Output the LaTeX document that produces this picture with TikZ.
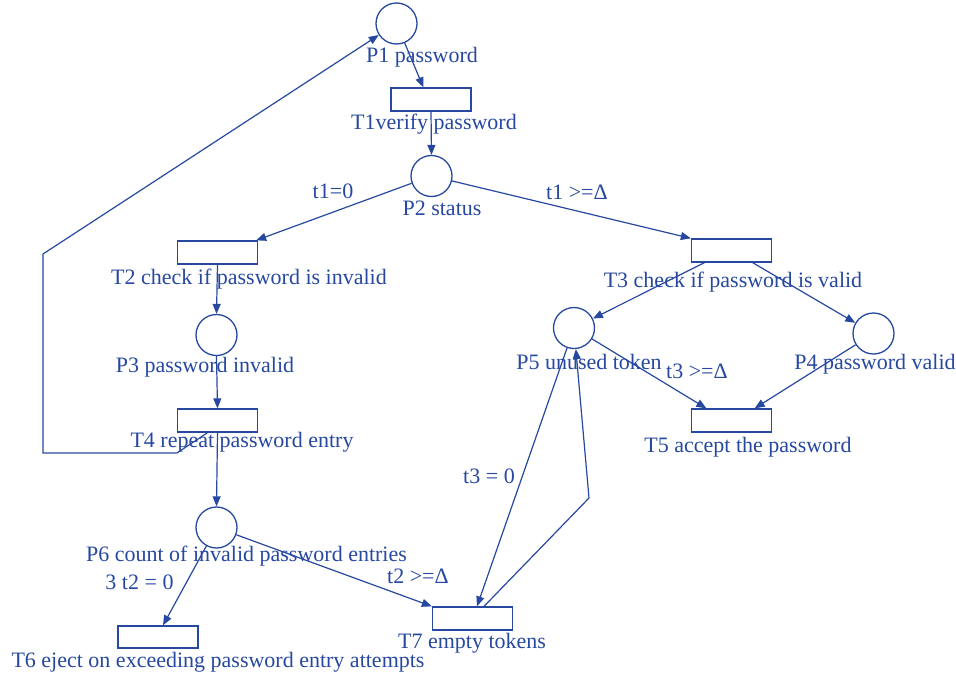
\documentclass[tikz,border=0pt]{standalone}
\usepackage{fontspec}
\setmainfont{Liberation Serif}
\usetikzlibrary{arrows.meta,calc}
\definecolor{netblue}{RGB}{38,72,160}
\begin{document}
\begin{tikzpicture}[x=1pt,y=-1pt,
  place/.style={circle,draw=netblue,line width=1.3pt,minimum size=41pt,inner sep=0pt},
  trans/.style={rectangle,draw=netblue,line width=1.3pt,minimum width=80pt,minimum height=23pt,inner sep=0pt},
  lbl/.style={text=netblue,font=\fontsize{22}{24}\selectfont,anchor=base,inner sep=0pt},
  arc/.style={draw=netblue,line width=1.2pt,-{Triangle[length=10pt,width=8pt]}}]
\useasboundingbox (0,0) rectangle (956,675);

% places
\node[place] (P1) at (396.5,23.5) {};
\node[place] (P2) at (431.5,176) {};
\node[place] (P3) at (216.5,335) {};
\node[place] (P4) at (873.5,333.5) {};
\node[place] (P5) at (574,328) {};
\node[place] (P6) at (216.5,527.5) {};

% transitions
\node[trans] (T1) at (431,99.5) {};
\node[trans] (T2) at (217.5,252.5) {};
\node[trans] (T3) at (731.5,250.5) {};
\node[trans] (T4) at (217.5,420.5) {};
\node[trans] (T5) at (731.5,420.5) {};
\node[trans,minimum height=22pt] (T6) at (158,637) {};
\node[trans] (T7) at (472.5,618.5) {};

% labels
\node[lbl] (lP1) at (422,62) {P1 password};
\node[lbl] (lT1) at (434,129) {T1verify password};
\node[lbl] (lP2) at (442,215) {P2 status};
\node[lbl] (lA1) at (333,198) {t1=0};
\node[lbl] (lA2) at (577,199) {t1 >=Δ};
\node[lbl] (lT2) at (249,284) {T2 check if password is invalid};
\node[lbl] (lT3) at (733,287) {T3 check if password is valid};
\node[lbl] (lP3) at (205,372) {P3 password invalid};
\node[lbl] (lP5) at (589,369) {P5 unused token};
\node[lbl] (lA3) at (697,378) {t3 >=Δ};
\node[lbl] (lP4) at (875,369) {P4 password valid};
\node[lbl] (lT4) at (242,447) {T4 repeat password entry};
\node[lbl] (lT5) at (748,452) {T5 accept the password};
\node[lbl] (lA4) at (489,483) {t3 = 0};
\node[lbl] (lP6) at (246.5,561) {P6 count of invalid password entries};
\node[lbl] (lA5) at (139.5,589) {3 t2 = 0};
\node[lbl] (lA6) at (418,583) {t2 >=Δ};
\node[lbl] (lT7) at (472,648) {T7 empty tokens};
\node[lbl] (lT6) at (218,667) {T6 eject on exceeding password entry attempts};

% bends of the return arcs
\coordinate (fb1) at (177,453);
\coordinate (fb2) at (43,453);
\coordinate (fb3) at (43,254);
\coordinate (rb1) at (589,498);

% arcs
\draw[arc] (P1) -- ($(T1.north west)+(33,0)$);
\draw[arc] (T1.south) -- (P2.north);
\draw[arc] (P2) -- ($(T2.north east)+(-2,0)$);
\draw[arc] (P2) -- (T3.north west);
\draw[arc] (T2.south) -- (P3.north);
\draw[arc] (P3.south) -- (T4.north);
\draw[arc] ($(T4.south)+(-10,0)$) -- (fb1) -- (fb2) -- (fb3) -- (P1);
\draw[arc] (T4.south) -- (P6.north);
\draw[arc] ($(T3.south west)+(13.5,0)$) -- (P5);
\draw[arc] ($(T3.south east)+(-19.5,0)$) -- (P4);
\draw[arc] (P5) -- ($(T5.north west)+(15.5,0)$);
\draw[arc] (P4) -- ($(T5.north east)+(-17.5,0)$);
\draw[arc] (P5) -- ($(T7.north)+(4.5,0)$);
\draw[arc] ($(T7.north)+(11.5,0)$) -- (rb1) -- (P5);
\draw[arc] (P6) -- ($(T6.north)+(5,0)$);
\draw[arc] (P6) -- (T7.north west);
\end{tikzpicture}
\end{document}
